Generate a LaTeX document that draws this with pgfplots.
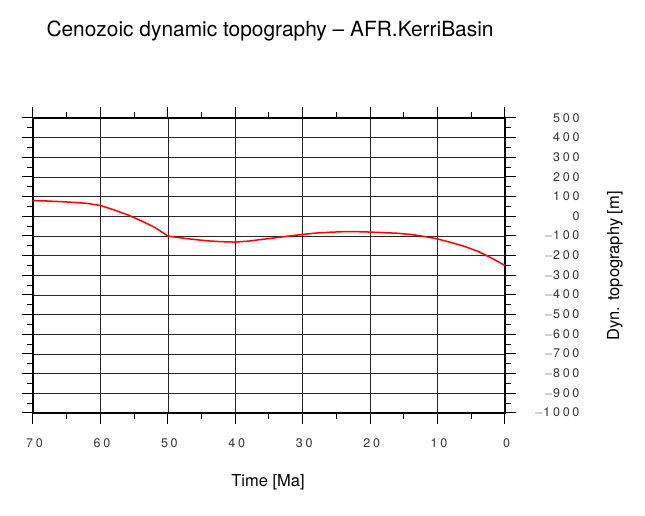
\documentclass[border=0pt]{standalone}
\usepackage{fontspec}
\setmainfont{TeX Gyre Heros}
\newfontfamily\tickfont[LetterSpace=22]{TeX Gyre Heros}
\usepackage{pgfplots}
\pgfplotsset{compat=1.18}
\begin{document}
\begin{tikzpicture}[x=1pt,y=1pt]
\useasboundingbox (0,0) rectangle (645,516);
\begin{axis}[
  at={(33pt,103pt)}, anchor=south west,
  scale only axis, width=472pt, height=295pt,
  xmin=0, xmax=70, x dir=reverse,
  ymin=-1000, ymax=500,
  xtick={0,10,...,70}, minor x tick num=1,
  ytick={-1000,-900,...,500}, minor y tick num=1,
  xtick pos=both, xticklabel pos=lower,
  ytick pos=both, yticklabel pos=right,
  tick align=outside,
  major tick length=11pt, minor tick length=6pt,
  every tick/.style={black, line width=1pt},
  grid=major,
  major grid style={black!85, line width=0.7pt},
  axis line style={black, line width=2.2pt},
  /pgf/number format/assume math mode=true,
  /pgf/number format/set thousands separator={},
  xticklabel style={font=\tickfont\fontsize{12.5}{14}\selectfont, text=black!80, yshift=-11pt, xshift=1.5pt},
  yticklabel style={font=\tickfont\fontsize{12.5}{14}\selectfont, text=black!80, anchor=east, xshift=67pt},
  yticklabel={\ifdim\tick pt<0pt $-$\pgfmathparse{-\tick}\pgfmathprintnumber{\pgfmathresult}\else\pgfmathprintnumber{\tick}\fi},
  clip=true,
]
\addplot[red, line width=1.5pt] coordinates {
(70,80) (68,78) (66,75) (64,71) (62,66) (60,55) (59,44) (58,33) (56,8) (54,-22) (52,-55)
(50,-100) (48,-110) (46,-118) (44,-125) (42,-129) (40,-131) (38,-126) (36,-117)
(34,-109) (32,-100) (30,-92) (28,-85) (26,-81) (24,-78) (22,-78) (20,-80) (18,-83)
(16,-86) (14,-92) (12,-102) (10,-115) (8,-133) (6,-153) (4,-178) (2,-212) (0,-250)
};
\end{axis}
\node[anchor=base west, font=\fontsize{20.9}{22}\selectfont] at (43,479) {Cenozoic dynamic topography -- AFR.KerriBasin};
\node[anchor=base, font=\fontsize{16.5}{18}\selectfont] at (268,29) {Time [Ma]};
\node[anchor=center, rotate=90, font=\fontsize{16.5}{18}\selectfont] at (615,250) {Dyn. topography [m]};
\end{tikzpicture}
\end{document}
